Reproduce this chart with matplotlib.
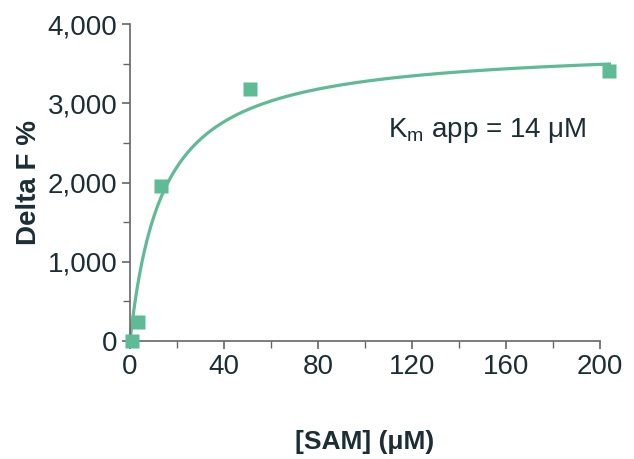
import numpy as np
import matplotlib
matplotlib.use("Agg")
import matplotlib.pyplot as plt
from matplotlib.ticker import MultipleLocator, FuncFormatter

sam = [0.8, 3.6, 13.0, 51.0, 204.0]
delta_f = [0, 246, 1962, 3175, 3405]
km = 14.0
vmax = 3735.0
x_ticks = [0, 40, 80, 120, 160, 200]
y_ticks = [0, 1000, 2000, 3000, 4000]

plt.rcParams['font.family'] = ['Liberation Sans', 'DejaVu Sans']
plt.rcParams['mathtext.fontset'] = 'custom'
plt.rcParams['mathtext.rm'] = 'Liberation Sans'

txt = '#1b2e35'
green = '#5fba96'
spine = '#666666'

fig = plt.figure(figsize=(6.34, 4.59), dpi=100)
ax = fig.add_axes([130/634, 1-341/459, 470/634, 317/459])

xf = np.linspace(0, 204, 400)
ax.plot(xf, vmax*xf/(km+xf), color=green, lw=2.3, zorder=2, clip_on=False)
ax.plot(sam, delta_f, 's', color=green, ms=9.4, mec='none', zorder=3, clip_on=False)

ax.set_xlim(0, 200)
ax.set_ylim(0, 4000)
ax.set_xticks(x_ticks)
ax.set_yticks(y_ticks)
ax.xaxis.set_minor_locator(MultipleLocator(20))
ax.yaxis.set_minor_locator(MultipleLocator(500))
ax.yaxis.set_major_formatter(FuncFormatter(lambda v, p: f"{int(v):,}"))

for s in ['top', 'right']:
    ax.spines[s].set_visible(False)
for s in ['left', 'bottom']:
    ax.spines[s].set_color(spine)
    ax.spines[s].set_linewidth(1.2)

ax.tick_params(which='major', length=6, width=1.2, color=spine, labelsize=20, labelcolor=txt, pad=3)
ax.tick_params(which='minor', length=5, width=1.0, color=spine)

ax.set_xlabel('[SAM] (μM)', fontsize=19, fontweight='bold', color=txt, labelpad=36)
ax.set_ylabel('Delta F %', fontsize=20, fontweight='bold', color=txt, labelpad=4)

ax.text(152, 2660, r'K$_\mathregular{m}$ app = 14 μM', fontsize=20, color=txt,
        ha='center', va='center')

fig.savefig('out.png', dpi=100)
